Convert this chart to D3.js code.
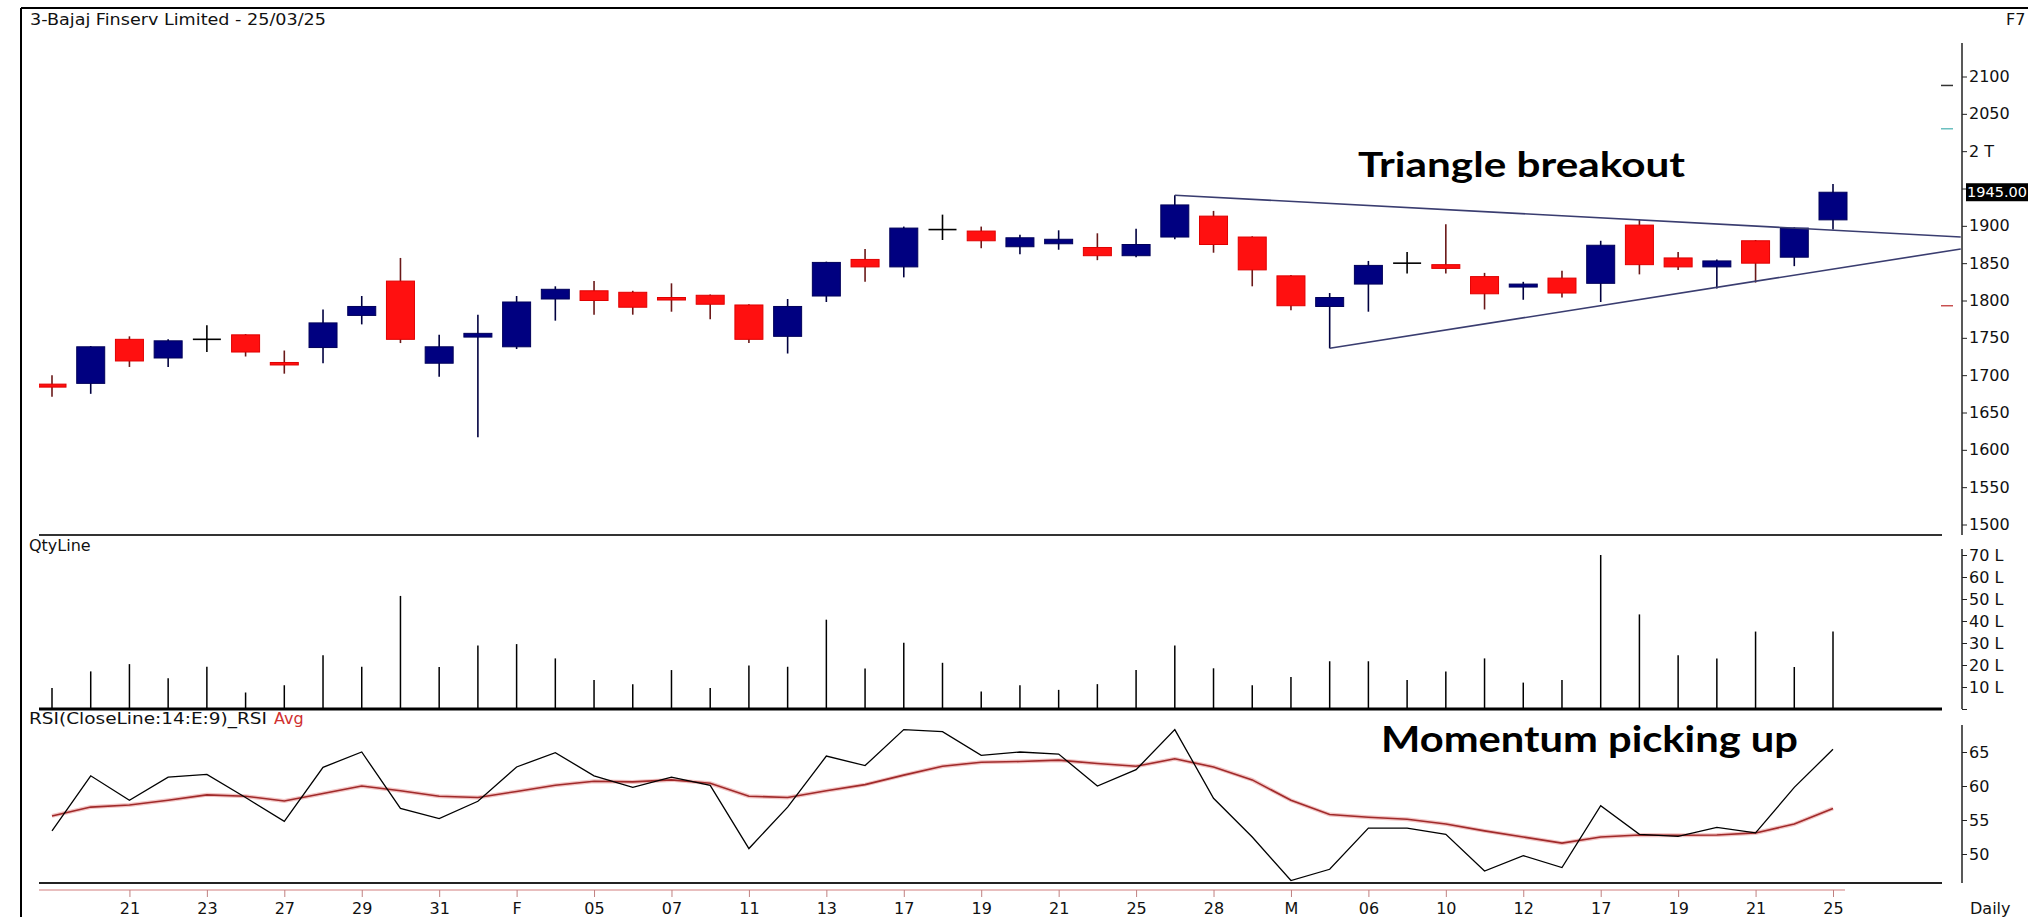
<!DOCTYPE html>
<html><head><meta charset="utf-8">
<script src="https://cdn.jsdelivr.net/npm/d3@7"></script>
<style>
html,body{margin:0;padding:0;background:#fff;overflow:hidden;}
svg{display:block;font-family:"DejaVu Sans",Verdana,sans-serif;}
</style></head><body>
<svg id="c" width="2028" height="917"></svg>
<script>
// ---------------- DATA ----------------
const dates = ["2025-01-17","2025-01-20","2025-01-21","2025-01-22","2025-01-23","2025-01-24","2025-01-27","2025-01-28","2025-01-29","2025-01-30","2025-01-31",
"2025-02-01","2025-02-03","2025-02-04","2025-02-05","2025-02-06","2025-02-07","2025-02-10","2025-02-11","2025-02-12","2025-02-13","2025-02-14","2025-02-17","2025-02-18","2025-02-19","2025-02-20","2025-02-21","2025-02-24","2025-02-25","2025-02-27","2025-02-28",
"2025-03-03","2025-03-04","2025-03-05","2025-03-06","2025-03-07","2025-03-10","2025-03-11","2025-03-12","2025-03-13","2025-03-17","2025-03-18","2025-03-19","2025-03-20","2025-03-21","2025-03-24","2025-03-25"];
const open  = [1688,1689,1748,1723,1748,1754,1717,1737,1780,1826,1716,1751,1738,1802,1813,1811,1804,1807,1794,1752,1806,1855,1845,1895,1893,1872,1876,1871,1860,1885,1913,1885,1833,1792,1822,1850,1848,1832,1818,1830,1823,1901,1857,1845,1880,1858,1908];
const high  = [1700,1739,1752,1748,1767,1755,1733,1788,1806,1857,1754,1781,1806,1819,1826,1813,1823,1808,1795,1802,1852,1869,1899,1915,1899,1888,1894,1890,1896,1941,1920,1886,1834,1810,1853,1865,1902,1837,1825,1840,1880,1908,1865,1855,1881,1898,1956];
const low   = [1671,1675,1711,1711,1731,1725,1702,1716,1768,1743,1698,1617,1735,1773,1781,1781,1785,1775,1743,1729,1798,1825,1831,1881,1870,1862,1868,1854,1858,1882,1864,1819,1787,1736,1785,1836,1836,1788,1801,1804,1798,1835,1841,1816,1824,1846,1895];
const close = [1684,1738,1719,1746,1748,1731,1715,1770,1792,1748,1738,1756,1798,1815,1800,1791,1802,1795,1748,1792,1851,1845,1897,1895,1880,1884,1882,1860,1875,1928,1875,1841,1793,1804,1847,1850,1843,1809,1822,1810,1874,1848,1845,1853,1850,1897,1945];
const volumeL = [9.5,17.1,20.4,14.0,19.2,7.5,10.8,24.4,19.2,51.4,19.1,28.9,29.5,23,13.2,11.3,17.7,9.5,19.8,19.2,40.6,18.4,30.1,21,8,
10.8,8.7,11.3,17.7,28.9,18.5,10.8,14.6,21.7,21.7,13.2,17.1,23,12,13.2,70,43,24.4,23,35.2,19.1,35.2];
const rsi = [53.4,61.5,57.9,61.3,61.7,58.3,54.8,62.75,65.0,56.7,55.2,57.75,62.8,64.9,61.5,59.8,61.3,60.1,50.8,56.9,64.4,63.0,68.3,68.0,64.5,
65.0,64.7,60.0,62.4,68.3,58.2,52.5,46.1,47.75,53.8,53.8,52.9,47.5,49.75,48.0,57.1,52.9,52.6,53.9,53.1,59.8,65.4];
const rsiAvg = [55.6,56.9,57.2,57.9,58.7,58.5,57.8,58.9,60.0,59.3,58.5,58.3,59.2,60.1,60.7,60.6,60.9,60.4,58.5,58.3,59.3,60.2,61.6,62.9,63.5,
63.6,63.8,63.3,62.9,64.0,62.8,60.9,57.9,55.8,55.4,55.1,54.4,53.4,52.5,51.6,52.5,52.8,52.75,52.8,53.1,54.4,56.7];
const xTickIdx = [2,4,6,8,10,12,14,16,18,20,22,24,26,28,30,32,34,36,38,40,42,44,46];
const xTickLabels = ["21","23","27","29","31","F","05","07","11","13","17","19","21","25","28","M","06","10","12","17","19","21","25"];
const priceTicks = [1500,1550,1600,1650,1700,1750,1800,1850,1900,1950,2000,2050,2100];
const priceTickLabels = ["1500","1550","1600","1650","1700","1750","1800","1850","1900","","2 T","2050","2100"];
const volTicks = [0,10,20,30,40,50,60,70];
const rsiTicks = [50,55,60,65];
// trendlines: [session index, price]
const trendUpper = [[29,1941],[49.3,1885]];
const trendLower = [[33,1736],[49.3,1869]];
const lastPrice = 1945.00;
const axisMarks = [{p:2088,c:"#333333"},{p:2030,c:"#6cc0c0"},{p:1793,c:"#c85050"}];

// ---------------- SCALES ----------------
const svg = d3.select("#c");
const x = d3.scaleLinear().domain([0, dates.length-1]).range([52, 1833]);
const yP = d3.scaleLinear().domain([1500,2100]).range([524.5,76.5]);
const yV = d3.scaleLinear().domain([0,70]).range([709,555]);
const yR = d3.scaleLinear().domain([50,65]).range([854,752]);
const AX = 1962, PL = 39, PR = 1942;

// clip
const defs = svg.append("defs");
defs.append("clipPath").attr("id","cp").append("rect").attr("x",PL).attr("y",10).attr("width",AX-PL).attr("height",522);
defs.append("clipPath").attr("id","cr").append("rect").attr("x",PL).attr("y",711).attr("width",AX-PL).attr("height",171);

// frame
svg.append("line").attr("x1",21).attr("x2",2028).attr("y1",8).attr("y2",8).attr("stroke","#000").attr("stroke-width",2);
svg.append("line").attr("x1",21).attr("x2",21).attr("y1",8).attr("y2",917).attr("stroke","#000").attr("stroke-width",2);

// panel separators
svg.append("line").attr("x1",PL).attr("x2",PR).attr("y1",535).attr("y2",535).attr("stroke","#333").attr("stroke-width",2);
svg.append("line").attr("x1",PL).attr("x2",PR).attr("y1",709).attr("y2",709).attr("stroke","#000").attr("stroke-width",3);
svg.append("line").attr("x1",PL).attr("x2",PR).attr("y1",883).attr("y2",883).attr("stroke","#222").attr("stroke-width",2);
svg.append("line").attr("x1",PL).attr("x2",1845).attr("y1",890).attr("y2",890).attr("stroke","#e0a8a8").attr("stroke-width",1.5);

// texts
svg.append("text").attr("x",30).attr("y",25).attr("font-size",16).attr("fill","#111")
  .attr("textLength",296).attr("lengthAdjust","spacingAndGlyphs").text("3-Bajaj Finserv Limited - 25/03/25");
svg.append("text").attr("x",2006).attr("y",25).attr("font-size",16).attr("fill","#111").text("F7");
svg.append("text").attr("x",29).attr("y",551).attr("font-size",16).attr("fill","#111").text("QtyLine");
svg.append("text").attr("x",29).attr("y",724).attr("font-size",16).attr("fill","#111")
  .attr("textLength",238).attr("lengthAdjust","spacingAndGlyphs").text("RSI(CloseLine:14:E:9)_RSI");
svg.append("text").attr("x",274).attr("y",724).attr("font-size",16).attr("fill","#d03030").text("Avg");
svg.append("text").attr("x",1970).attr("y",914).attr("font-size",16).attr("fill","#111").text("Daily");

// ---------------- PRICE PANEL ----------------
const gp = svg.append("g").attr("clip-path","url(#cp)");
const BW = 28;
const candles = gp.selectAll("g.cd").data(d3.range(dates.length)).join("g");
candles.each(function(i){
  const g = d3.select(this);
  const o=open[i], c=close[i], h=high[i], l=low[i];
  const up = c>o, dn = c<o;
  const col = up ? "#000080" : dn ? "#ff1010" : "#000";
  const wick = up ? "#000040" : dn ? "#6a1818" : "#000";
  g.append("line").attr("x1",x(i)).attr("x2",x(i)).attr("y1",yP(h)).attr("y2",yP(l)).attr("stroke",wick).attr("stroke-width",1.6);
  if (o===c) {
    g.append("line").attr("x1",x(i)-BW/2).attr("x2",x(i)+BW/2).attr("y1",yP(o)).attr("y2",yP(o)).attr("stroke","#000").attr("stroke-width",1.6);
  } else {
    const yt = yP(Math.max(o,c)), yb = yP(Math.min(o,c));
    g.append("rect").attr("x",x(i)-BW/2).attr("y",yt).attr("width",BW).attr("height",Math.max(yb-yt,2.5))
      .attr("fill",col).attr("stroke",up?"#00005a":"#e00000").attr("stroke-width",1);
  }
});
// trendlines
const tl = d3.line().x(d=>x(d[0])).y(d=>yP(d[1]));
[trendUpper,trendLower].forEach(t=>{
  gp.append("path").attr("d",tl(t)).attr("fill","none").attr("stroke","#3a3d70").attr("stroke-width",1.6);
});
// price axis
const pa = svg.append("g").attr("transform",`translate(${AX},0)`)
  .call(d3.axisRight(yP).tickValues(priceTicks).tickSize(5).tickPadding(2).tickFormat((d,i)=>priceTickLabels[i]));
pa.select(".domain").remove();
pa.selectAll("text").attr("font-size",16).attr("font-family","DejaVu Sans").attr("fill","#111");
pa.selectAll("line").attr("stroke","#222");
svg.append("line").attr("x1",AX).attr("x2",AX).attr("y1",43).attr("y2",535).attr("stroke","#222").attr("stroke-width",1.5);
axisMarks.forEach(m=>{
  svg.append("line").attr("x1",AX-21).attr("x2",AX-9).attr("y1",yP(m.p)).attr("y2",yP(m.p)).attr("stroke",m.c).attr("stroke-width",1.5);
});
// last price box
svg.append("rect").attr("x",AX+4).attr("y",yP(lastPrice)-9).attr("width",70).attr("height",18).attr("fill","#000");
svg.append("text").attr("x",AX+5).attr("y",yP(lastPrice)).attr("dy","0.36em").attr("font-size",14.5).attr("fill","#fff").text(lastPrice.toFixed(2));

svg.append("text").attr("x",1358).attr("y",177).attr("font-family","Lato, 'Open Sans', sans-serif").attr("font-weight",700)
  .attr("font-size",35).attr("fill","#000").attr("textLength",327).attr("lengthAdjust","spacingAndGlyphs").text("Triangle breakout");

// ---------------- VOLUME PANEL ----------------
svg.append("g").selectAll("line").data(volumeL).join("line")
  .attr("x1",(d,i)=>x(i)).attr("x2",(d,i)=>x(i)).attr("y1",yV(0)).attr("y2",d=>yV(d))
  .attr("stroke","#000").attr("stroke-width",1.5);
const va = svg.append("g").attr("transform",`translate(${AX},0)`)
  .call(d3.axisRight(yV).tickValues(volTicks).tickSize(5).tickPadding(2).tickFormat(d=>d===0?"":d+" L"));
va.select(".domain").remove();
va.selectAll("text").attr("font-size",16).attr("font-family","DejaVu Sans").attr("fill","#111");
va.selectAll("line").attr("stroke","#222");
svg.append("line").attr("x1",AX).attr("x2",AX).attr("y1",549).attr("y2",709).attr("stroke","#222").attr("stroke-width",1.5);

// ---------------- RSI PANEL ----------------
const gr = svg.append("g").attr("clip-path","url(#cr)");
const lr = d3.line().x((d,i)=>x(i)).y(d=>yR(d));
gr.append("path").attr("d",lr(rsiAvg)).attr("fill","none").attr("stroke","#f2c4c4").attr("stroke-width",4);
gr.append("path").attr("d",lr(rsiAvg)).attr("fill","none").attr("stroke","#a02a2a").attr("stroke-width",1.6);
gr.append("path").attr("d",lr(rsi)).attr("fill","none").attr("stroke","#000").attr("stroke-width",1.3);
const ra = svg.append("g").attr("transform",`translate(${AX},0)`)
  .call(d3.axisRight(yR).tickValues(rsiTicks).tickSize(5).tickPadding(2));
ra.select(".domain").remove();
ra.selectAll("text").attr("font-size",16).attr("font-family","DejaVu Sans").attr("fill","#111");
ra.selectAll("line").attr("stroke","#222");
svg.append("line").attr("x1",AX).attr("x2",AX).attr("y1",725).attr("y2",883).attr("stroke","#222").attr("stroke-width",1.5);

svg.append("text").attr("x",1381).attr("y",752).attr("font-family","Lato, 'Open Sans', sans-serif").attr("font-weight",700)
  .attr("font-size",37).attr("fill","#000").attr("textLength",417).attr("lengthAdjust","spacingAndGlyphs").text("Momentum picking up");

// ---------------- DATE AXIS ----------------
const xa = svg.append("g").attr("transform","translate(0,890)")
  .call(d3.axisBottom(x).tickValues(xTickIdx).tickSize(7).tickPadding(6).tickFormat((d,i)=>xTickLabels[i]));
xa.select(".domain").remove();
xa.selectAll("text").attr("font-size",16).attr("font-family","DejaVu Sans").attr("fill","#111");
xa.selectAll("line").attr("stroke","#c08080");
</script>
</body></html>
